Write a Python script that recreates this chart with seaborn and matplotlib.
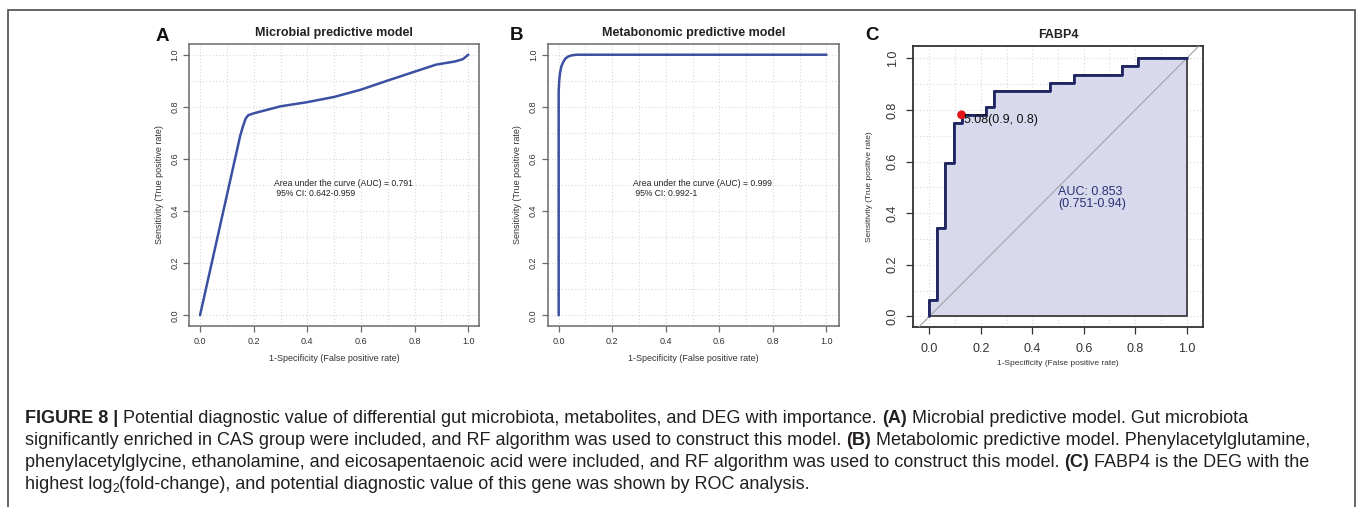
import numpy as np
import matplotlib
matplotlib.use("Agg")
import matplotlib.pyplot as plt
import seaborn as sns
from matplotlib.patches import Rectangle

# ---------------- data ----------------
micro_fpr = [0.0, 0.05, 0.10, 0.15, 0.16, 0.17, 0.18, 0.20, 0.30, 0.40, 0.50,
             0.60, 0.70, 0.80, 0.88, 0.95, 0.98, 1.0]
micro_tpr = [0.0, 0.23, 0.46, 0.69, 0.725, 0.755, 0.768, 0.775, 0.802, 0.818,
             0.838, 0.866, 0.901, 0.935, 0.962, 0.974, 0.983, 1.0]
micro_text = "Area under the curve (AUC) = 0.791\n 95% CI: 0.642-0.959"

metab_fpr = [0.0, 0.0, 0.002, 0.005, 0.01, 0.017, 0.025, 0.035, 0.05, 0.07, 0.1, 1.0]
metab_tpr = [0.0, 0.86, 0.90, 0.93, 0.955, 0.972, 0.985, 0.993, 0.998, 1.0, 1.0, 1.0]
metab_text = "Area under the curve (AUC) = 0.999\n 95% CI: 0.992-1"

fabp4_fpr = [0.0, 0.03125, 0.0625, 0.09375, 0.125, 0.21875, 0.25, 0.46875,
             0.5625, 0.75, 0.8125, 1.0]
fabp4_tpr = [0.0, 0.0625, 0.34375, 0.59375, 0.75, 0.78125, 0.8125, 0.875,
             0.90625, 0.9375, 0.96875, 1.0]
best_fpr, best_tpr = 0.125, 0.78125
best_label = "5.08(0.9, 0.8)"
fabp4_auc = "AUC: 0.853\n(0.751-0.94)"

titles = ["Microbial predictive model", "Metabonomic predictive model", "FABP4"]
letters = ["A", "B", "C"]
xlabel = "1-Specificity (False positive rate)"
ylabel = "Sensitivity (True positive rate)"
ticks = [0.0, 0.2, 0.4, 0.6, 0.8, 1.0]
tick_labels = ["0.0", "0.2", "0.4", "0.6", "0.8", "1.0"]

caption_lines = [
    [("FIGURE 8 |", "b"), ("Potential diagnostic value of differential gut microbiota, metabolites, and DEG with importance.", "r"),
     ("(A)", "b"), ("Microbial predictive model. Gut microbiota", "r")],
    [("significantly enriched in CAS group were included, and RF algorithm was used to construct this model.", "r"),
     ("(B)", "b"), ("Metabolomic predictive model. Phenylacetylglutamine,", "r")],
    [("phenylacetylglycine, ethanolamine, and eicosapentaenoic acid were included, and RF algorithm was used to construct this model.", "r"),
     ("(C)", "b"), ("FABP4 is the DEG with the", "r")],
    [("highest log", "r"), ("2", "sub"), ("(fold-change), and potential diagnostic value of this gene was shown by ROC analysis.", "r")],
]

# ---------------- style ----------------
sns.set_style("white")
plt.rcParams["font.family"] = ["Liberation Sans", "DejaVu Sans"]

W, H = 1358, 507
fig = plt.figure(figsize=(W / 100, H / 100), dpi=100)
fig.patch.set_facecolor("white")


def ax_from_px(l, r, t, b):
    return fig.add_axes([l / W, 1 - b / H, (r - l) / W, (b - t) / H])


def style_axes(ax, xlim, ylim, spine_col, lw, tick_len, tick_size, pad_x, pad_y,
               lab_size, lpx, lpy, title, tpad, tsize):
    ax.set_xlim(*xlim)
    ax.set_ylim(*ylim)
    ax.set_xticks(ticks)
    ax.set_yticks(ticks)
    ax.set_xticklabels(tick_labels)
    ax.set_yticklabels(tick_labels)
    minor = np.round(np.arange(0, 1.0001, 0.1), 2)
    ax.set_xticks(minor, minor=True)
    ax.set_yticks(minor, minor=True)
    ax.tick_params(which="minor", length=0)
    ax.grid(True, which="both", color="#d9d9d9", linestyle=(0, (1, 2)), lw=0.8)
    ax.set_axisbelow(True)
    for s in ax.spines.values():
        s.set_visible(True)
        s.set_color(spine_col)
        s.set_linewidth(lw)
    ax.tick_params(which="major", direction="out", length=tick_len, width=0.9,
                   color=spine_col, labelsize=tick_size, labelcolor="#333333",
                   bottom=True, left=True)
    ax.tick_params(axis="x", pad=pad_x)
    ax.tick_params(axis="y", pad=pad_y, labelrotation=90)
    for lb in ax.get_yticklabels():
        lb.set_va("center")
    ax.set_xlabel(xlabel, fontsize=lab_size, color="#333333", labelpad=lpx)
    ax.set_ylabel(ylabel, fontsize=lab_size, color="#333333", labelpad=lpy)
    ax.set_title(title, fontsize=tsize, fontweight="bold", color="#222222", pad=tpad)


line_col = "#3c50a2"

# Panel A
axA = ax_from_px(189.3, 479.0, 44.3, 325.7)
sns.lineplot(x=micro_fpr, y=micro_tpr, ax=axA, sort=False, estimator=None,
             color=line_col, lw=1.8)
axA.text(0.276, 0.4865, micro_text, fontsize=6.2, color="#222222",
         ha="left", va="center", linespacing=1.15)
style_axes(axA, (-0.04, 1.04), (-0.04, 1.04), "#6a6a6a", 1.1, 4, 6.5, 4, 3,
           6.5, 6, 5, titles[0], 6, 9)

# Panel B
axB = ax_from_px(547.7, 839.3, 44.3, 325.7)
sns.lineplot(x=metab_fpr, y=metab_tpr, ax=axB, sort=False, estimator=None,
             color=line_col, lw=1.8)
axB.text(0.276, 0.4865, metab_text, fontsize=6.2, color="#222222",
         ha="left", va="center", linespacing=1.15)
style_axes(axB, (-0.041, 1.048), (-0.04, 1.04), "#6a6a6a", 1.1, 4, 6.5, 4, 3,
           6.5, 6, 5, titles[1], 6, 9)

# Panel C
axC = ax_from_px(912.7, 1203.3, 46.0, 326.7)
axC.fill_between(fabp4_fpr, fabp4_tpr, 0, step="pre", facecolor="#d8d9ed",
                 edgecolor="#3d3d3d", lw=1.3, zorder=2)
axC.axline((0, 0), (1, 1), color="#a8a8a8", lw=0.9, zorder=3)
sns.lineplot(x=fabp4_fpr, y=fabp4_tpr, ax=axC, sort=False, estimator=None,
             drawstyle="steps-pre", color="#1e2563", lw=2.0, zorder=4)
sns.scatterplot(x=[best_fpr], y=[best_tpr], ax=axC, color="#e3151b", s=40,
                edgecolor="none", zorder=6)
axC.text(best_fpr + 0.01, best_tpr - 0.02, best_label, fontsize=9,
         color="#111111", ha="left", va="center", zorder=7)
axC.text(0.50, 0.458, fabp4_auc, fontsize=9, color="#2b3273",
         ha="left", va="center", linespacing=1.05, zorder=7)
style_axes(axC, (-0.065, 1.065), (-0.04, 1.048), "#333333", 1.3, 5, 9, 7, 5,
           6.0, 3, 10, titles[2], 6, 9)

# Panel letters
for (x, y), letter in zip([(155.7, 36.7), (510.0, 35.5), (865.0, 36.0)], letters):
    fig.text(x / W, 1 - y / H, letter, fontsize=13.5, fontweight="bold",
             ha="left", va="center", color="#111111")

# Outer frame
fig.add_artist(Rectangle((8 / W, -0.05), (1355 - 8) / W, 1 - 9.7 / H + 0.05,
                         transform=fig.transFigure, fill=False,
                         edgecolor="#4d4d4d", lw=1.2, clip_on=False))

# ---------------- caption ----------------
renderer = fig.canvas.get_renderer()
cap_font = ["Liberation Sans", "DejaVu Sans"]
cap_col = "#231f20"


def text_w(s, size, weight="normal"):
    t = fig.text(0, 0, s, fontsize=size, fontweight=weight, family=cap_font)
    w = t.get_window_extent(renderer).width
    t.remove()
    return w


def line_width(segs, size):
    sp = text_w("a a", size) - text_w("aa", size)
    tot = 0
    for i, (s, kind) in enumerate(segs):
        if kind == "sub":
            tot += text_w(s, size * 0.68)
            continue
        if i > 0 and segs[i - 1][1] != "sub":
            tot += sp
        tot += text_w(s, size, "bold" if kind == "b" else "normal")
    return tot


base = 12.0
target = 1313 - 25
size = base * target / line_width(caption_lines[2], base)

x0 = 25
baselines = [423, 445, 467, 489]
sp = text_w("a a", size) - text_w("aa", size)
for segs, yb in zip(caption_lines, baselines):
    x = x0
    for i, (s, kind) in enumerate(segs):
        if kind == "sub":
            fig.text(x / W, 1 - (yb + 3.5) / H, s, fontsize=size * 0.68,
                     family=cap_font, color=cap_col, ha="left", va="baseline")
            x += text_w(s, size * 0.68)
            continue
        if i > 0 and segs[i - 1][1] != "sub":
            x += sp
        wt = "bold" if kind == "b" else "normal"
        fig.text(x / W, 1 - yb / H, s, fontsize=size, fontweight=wt,
                 family=cap_font, color=cap_col, ha="left", va="baseline")
        x += text_w(s, size, wt)

fig.savefig("out.png", dpi=100, facecolor="white")
